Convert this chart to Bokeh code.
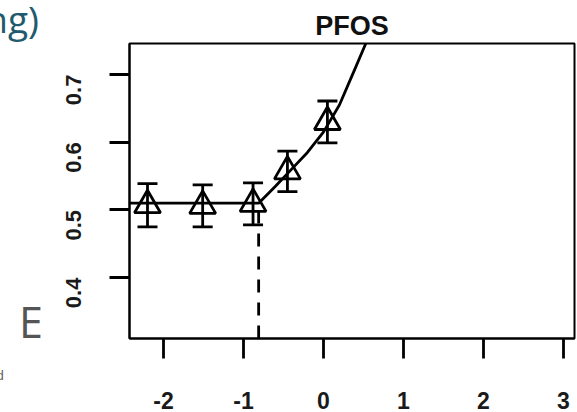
import math
from bokeh.plotting import figure
from bokeh.layouts import row
from bokeh.models import Range1d, FixedTicker, Whisker, TeeHead, ColumnDataSource, Div
from bokeh.embed import file_html
from bokeh.resources import INLINE

# data
pt_x = [-2.20, -1.51, -0.88, -0.45, 0.05]
pt_y = [0.507, 0.506, 0.509, 0.557, 0.630]
pt_err = [0.032, 0.031, 0.031, 0.030, 0.031]

fit_x = [-2.42, -0.81, -0.6, -0.4, -0.2, 0.0, 0.2, 0.4, 0.53]
fit_y = [0.510, 0.510, 0.535, 0.560, 0.585, 0.615, 0.655, 0.710, 0.746]

breakpoint_x = -0.81
breakpoint_y = 0.505

x_ticks = [-2, -1, 0, 1, 2, 3]
y_ticks = [0.4, 0.5, 0.6, 0.7]
x_tick_labels = {-2: "-2", -1: "-1", 0: "0", 1: "1", 2: "2", 3: "3"}
y_tick_labels = {0.4: "0.4", 0.5: "0.5", 0.6: "0.6", 0.7: "0.7"}
title_text = "PFOS"

# fragments of the surrounding page visible at the left of the crop
frag_text = ["ng)", "E", "d"]
frag_css = [
    "right:6px;top:0px;font-size:37px;color:#1f5a6e;",
    "left:11px;width:40px;text-align:center;top:300px;font-size:43px;color:#555555;",
    "right:41px;top:369px;font-size:13px;color:#555555;",
]

FONT = "Liberation Sans"
LW = 2.8

spans = "".join(
    '<span style="position:absolute;white-space:nowrap;line-height:1;'
    'font-family:\'Open Sans\';%s">%s</span>' % (css, t)
    for t, css in zip(frag_text, frag_css))
side = Div(text='<div style="position:relative;width:45px;height:412px;overflow:hidden;'
                'background:white;">' + spans + '</div>',
           width=45, height=412, margin=0)

p = figure(width=532, height=412, output_backend="svg", toolbar_location=None,
           x_range=Range1d(-2.425, 3.14), y_range=Range1d(0.31, 0.746),
           min_border_left=84, min_border_right=3, min_border_top=43, min_border_bottom=74)
p.background_fill_color = "white"
p.border_fill_color = "white"
p.outline_line_color = "black"
p.outline_line_width = 2
p.grid.visible = False

p.title.text = title_text
p.title.align = "center"
p.title.text_font = FONT
p.title.text_font_style = "bold"
p.title.text_font_size = "27px"
p.title.text_color = "#111111"
p.title.standoff = 6

for ax in (p.xaxis[0], p.yaxis[0]):
    ax.axis_line_color = "black"
    ax.axis_line_width = 2
    ax.major_tick_line_color = "black"
    ax.major_tick_line_width = LW
    ax.major_tick_out = 20
    ax.major_tick_in = 0
    ax.minor_tick_line_color = None
    ax.major_label_text_font = FONT
    ax.major_label_text_font_style = "bold"
    ax.major_label_text_color = "#1a1a1a"

p.xaxis.major_label_text_font_size = "23px"
p.yaxis.major_label_text_font_size = "22px"
p.xaxis.ticker = FixedTicker(ticks=x_ticks)
p.yaxis.ticker = FixedTicker(ticks=y_ticks)
p.xaxis.major_label_overrides = x_tick_labels
p.yaxis.major_label_overrides = y_tick_labels
p.xaxis.major_label_standoff = 33
p.yaxis.major_label_standoff = 36
p.yaxis.major_label_orientation = math.pi / 2

# fitted curve
p.line(fit_x, fit_y, line_color="black", line_width=LW)

# dashed breakpoint line
p.segment(x0=[breakpoint_x], y0=[0.31], x1=[breakpoint_x], y1=[breakpoint_y],
          line_color="black", line_width=LW, line_dash="13 10")

# error bars
src = ColumnDataSource(dict(x=pt_x, y=pt_y,
                            lo=[y - e for y, e in zip(pt_y, pt_err)],
                            hi=[y + e for y, e in zip(pt_y, pt_err)]))
w = Whisker(source=src, base="x", lower="lo", upper="hi", dimension="height",
            line_color="black", line_width=LW,
            upper_head=TeeHead(size=20, line_color="black", line_width=LW),
            lower_head=TeeHead(size=20, line_color="black", line_width=LW))
p.add_layout(w)

p.scatter(pt_x, pt_y, marker="triangle", size=26, fill_alpha=0,
          line_color="black", line_width=LW)

layout = row(side, p, spacing=0)
open("out.html", "w").write(file_html(layout, INLINE))
